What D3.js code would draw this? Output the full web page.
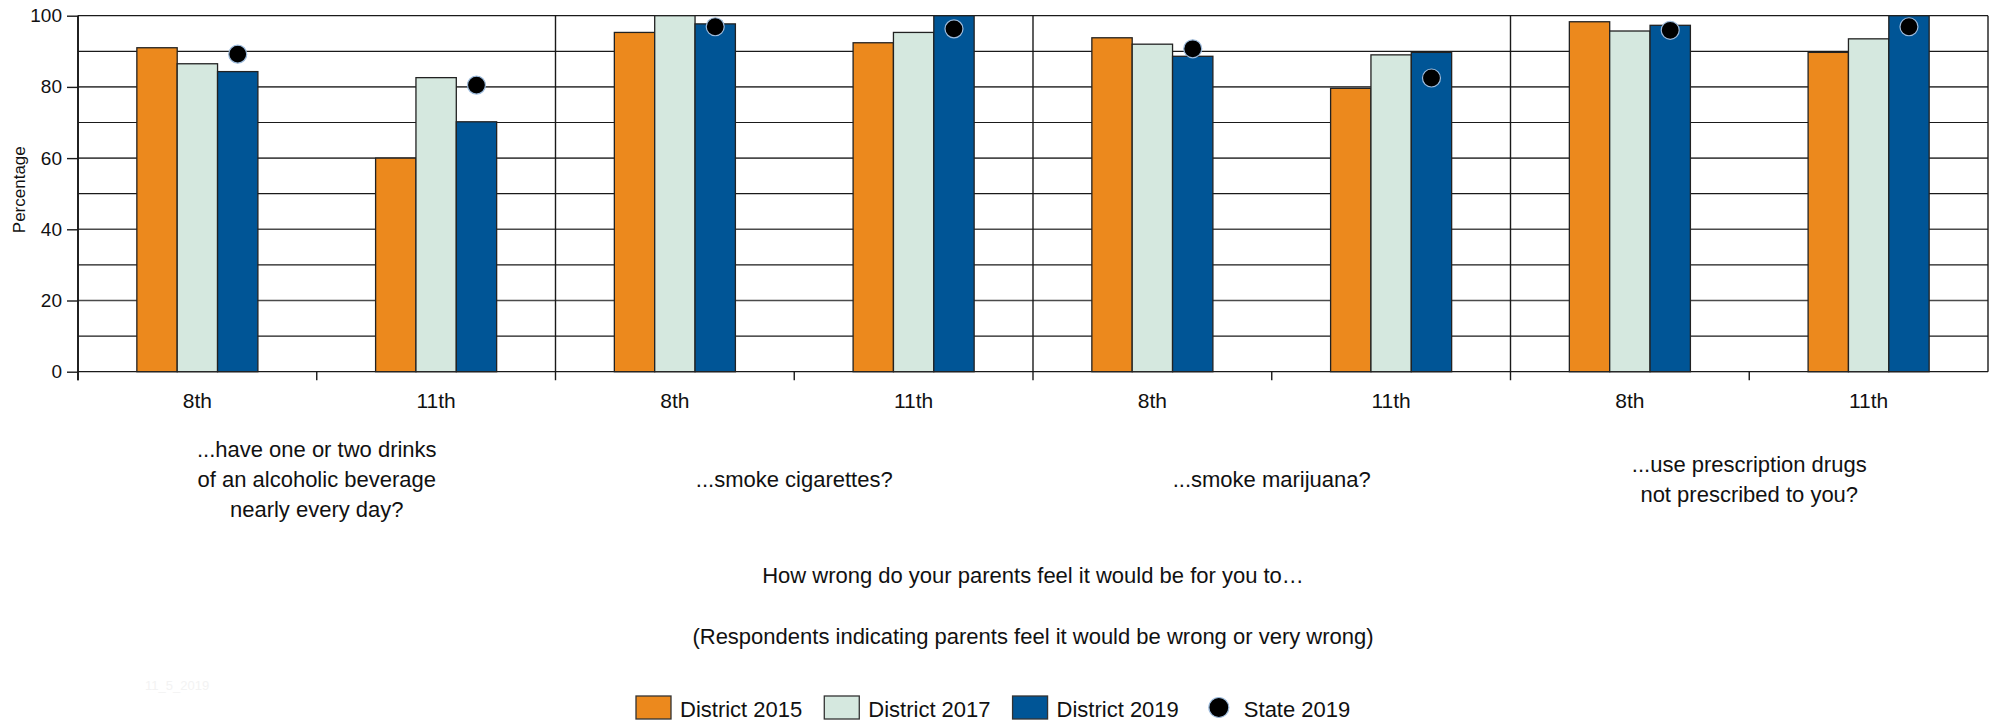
<!DOCTYPE html>
<html>
<head>
<meta charset="utf-8">
<script src="https://cdn.jsdelivr.net/npm/d3@7"></script>
<style>
  html, body { margin: 0; padding: 0; background: #fff; }
  svg text { font-family: "Liberation Sans", Arial, sans-serif; fill: #111; }
</style>
</head>
<body>
<svg id="chart" width="2000" height="721"></svg>
<script>
// ---------------- data ----------------
const topics = [
  ["...have one or two drinks", "of an alcoholic beverage", "nearly every day?"],
  ["...smoke cigarettes?"],
  ["...smoke marijuana?"],
  ["...use prescription drugs", "not prescribed to you?"]
];
const grades = ["8th", "11th"];
const seriesNames = ["District 2015", "District 2017", "District 2019"];
const pointName = "State 2019";
// values in order: topic1 8th, topic1 11th, topic2 8th, ...
const district2015 = [91.0, 60.0, 95.3, 92.4, 93.8, 79.6, 98.3, 89.7];
const district2017 = [86.5, 82.6, 100.0, 95.3, 92.0, 89.0, 95.7, 93.5];
const district2019 = [84.3, 70.2, 97.7, 100.0, 88.6, 89.7, 97.3, 100.0];
const state2019    = [89.2, 80.5, 96.9, 96.3, 90.7, 82.5, 95.9, 96.9];
const yTicks = [0, 20, 40, 60, 80, 100];
const yGrid = [0, 10, 20, 30, 40, 50, 60, 70, 80, 90, 100];
const yLabel = "Percentage";
const title1 = "How wrong do your parents feel it would be for you to\u2026";
const title2 = "(Respondents indicating parents feel it would be wrong or very wrong)";
const watermark = "11_5_2019";

// ---------------- layout ----------------
const colors = { "District 2015": "#EC891D", "District 2017": "#D5E8DF", "District 2019": "#005596" };
const svg = d3.select("#chart");
const X0 = 78, X1 = 1988, Y0 = 371.7, Y1 = 15.7;
const FS = "22px";

const cells = [];
topics.forEach((t, ti) => grades.forEach((g, gi) => cells.push({ id: ti + "-" + gi, topic: ti, grade: g })));
const seriesVals = [district2015, district2017, district2019];

const x0 = d3.scaleBand().domain(cells.map(c => c.id)).range([X0, X1]).paddingInner(0).paddingOuter(0);
const bw = x0.bandwidth();
const x1 = d3.scaleBand().domain(seriesNames).range([bw * 0.2465, bw * 0.7535]).padding(0);
const y = d3.scaleLinear().domain([0, 100]).range([Y0, Y1]);

// gridlines
svg.append("g").selectAll("line").data(yGrid).join("line")
  .attr("x1", X0).attr("x2", X1)
  .attr("y1", d => y(d)).attr("y2", d => y(d))
  .attr("stroke", d => (d % 20 === 0 && d !== 0 && d !== 100) ? "#4a4a4a" : "#1a1a1a")
  .attr("stroke-width", d => (d % 20 === 0 && d !== 0 && d !== 100) ? 1.6 : 1.2);

// vertical separators between topics (full height + tick below)
const topicStarts = topics.map((t, ti) => x0(ti + "-0"));
svg.append("g").selectAll("line").data(topicStarts).join("line")
  .attr("x1", d => d).attr("x2", d => d)
  .attr("y1", y(100)).attr("y2", Y0 + 8.5)
  .attr("stroke", "#1a1a1a").attr("stroke-width", 1.4);

// ticks between grades inside a topic
const gradeSplits = topics.map((t, ti) => x0(ti + "-1"));
svg.append("g").selectAll("line").data(gradeSplits).join("line")
  .attr("x1", d => d).attr("x2", d => d)
  .attr("y1", Y0).attr("y2", Y0 + 8.5)
  .attr("stroke", "#1a1a1a").attr("stroke-width", 1.4);

// right border
svg.append("line").attr("x1", X1).attr("x2", X1).attr("y1", y(100)).attr("y2", y(0))
  .attr("stroke", "#1a1a1a").attr("stroke-width", 1.4);

// bars
const barData = [];
cells.forEach((c, ci) => seriesNames.forEach((s, si) => barData.push({ cell: c.id, s, v: seriesVals[si][ci] })));
svg.append("g").selectAll("rect").data(barData).join("rect")
  .attr("x", d => x0(d.cell) + x1(d.s))
  .attr("width", x1.bandwidth())
  .attr("y", d => y(d.v))
  .attr("height", d => y(0) - y(d.v))
  .attr("fill", d => colors[d.s])
  .attr("stroke", "#222").attr("stroke-width", 1.3);

// state points
svg.append("g").selectAll("circle").data(cells.map((c, ci) => ({ cell: c.id, v: state2019[ci] }))).join("circle")
  .attr("cx", d => x0(d.cell) + x1("District 2019") + x1.bandwidth() / 2)
  .attr("cy", d => y(d.v))
  .attr("r", 9)
  .attr("fill", "#000")
  .attr("stroke", "#9dbbdc").attr("stroke-width", 1.2);

// y axis
const yAxis = svg.append("g").attr("transform", `translate(${X0},0)`)
  .call(d3.axisLeft(y).tickValues(yTicks).tickSize(11).tickPadding(5));
yAxis.select(".domain").remove();
yAxis.selectAll(".tick line").attr("stroke", "#1a1a1a").attr("stroke-width", 1.4);
yAxis.selectAll(".tick text").style("font-size", "19px")
  .style("font-family", '"Liberation Sans", Arial, sans-serif').attr("fill", "#111");
// left axis line (extends slightly below zero)
svg.append("line").attr("x1", X0).attr("x2", X0).attr("y1", y(100)).attr("y2", Y0 + 8.5)
  .attr("stroke", "#1a1a1a").attr("stroke-width", 1.8);

// y label
svg.append("text")
  .attr("transform", `translate(25,${(Y0 + Y1) / 2 - 4}) rotate(-90)`)
  .attr("text-anchor", "middle")
  .style("font-size", "17px")
  .text(yLabel);

// grade labels
svg.append("g").selectAll("text").data(cells).join("text")
  .attr("x", d => x0(d.id) + bw / 2)
  .attr("y", 408)
  .attr("text-anchor", "middle")
  .style("font-size", "21px")
  .text(d => d.grade);

// topic labels
const tg = svg.append("g").selectAll("text").data(topics).join("text")
  .attr("text-anchor", "middle")
  .style("font-size", FS);
tg.each(function (lines, ti) {
  const cx = x0(ti + "-1");
  d3.select(this).selectAll("tspan").data(lines).join("tspan")
    .attr("x", cx)
    .attr("y", (d, i) => 487 + (i - (lines.length - 1) / 2) * 30)
    .text(d => d);
});

// titles
svg.append("text").attr("x", (X0 + X1) / 2).attr("y", 583).attr("text-anchor", "middle")
  .style("font-size", FS).text(title1);
svg.append("text").attr("x", (X0 + X1) / 2).attr("y", 644).attr("text-anchor", "middle")
  .style("font-size", FS).text(title2);

// watermark
svg.append("text").attr("x", 145).attr("y", 690).style("font-size", "13px").style("fill", "#f3f3f3").text(watermark);

// legend
const legend = svg.append("g");
let lx = 636;
const ly = 707.5;
seriesNames.forEach(s => {
  legend.append("rect").attr("x", lx).attr("y", ly - 11.5).attr("width", 35).attr("height", 23)
    .attr("fill", colors[s]).attr("stroke", "#333").attr("stroke-width", 1.3);
  const t = legend.append("text").attr("x", lx + 44).attr("y", 717)
    .style("font-size", FS).text(s);
  lx = lx + 44 + t.node().getComputedTextLength() + 22;
});
lx += 8;
legend.append("circle").attr("cx", lx + 10).attr("cy", ly).attr("r", 10)
  .attr("fill", "#000").attr("stroke", "#9dbbdc").attr("stroke-width", 1.2);
legend.append("text").attr("x", lx + 35).attr("y", 717)
  .style("font-size", FS).text(pointName);
</script>
</body>
</html>
